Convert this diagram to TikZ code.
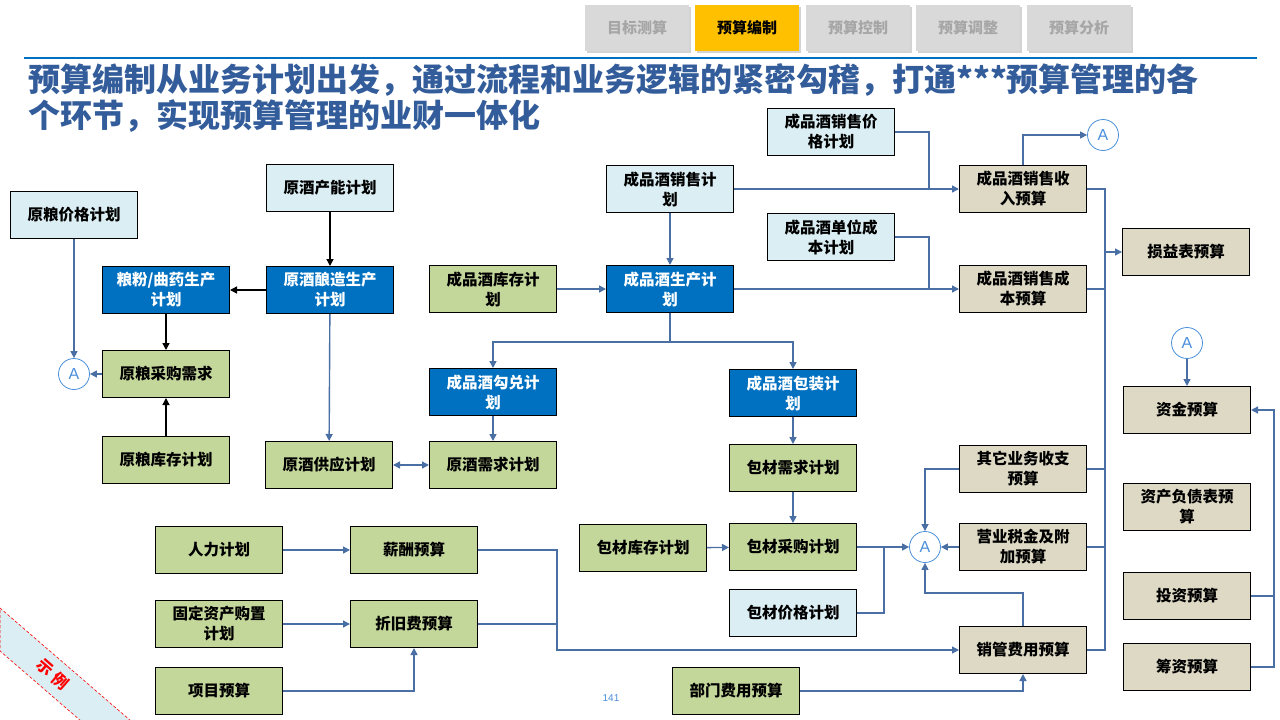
\documentclass[tikz,border=0pt]{standalone}
\usepackage{fontspec}
\setmainfont{Liberation Sans}
\newfontfamily\cjk{Noto Sans CJK SC}
\usepackage{xcolor}
\usetikzlibrary{arrows.meta,calc,positioning,shadows}

\definecolor{planblue}{HTML}{DAEEF3}
\definecolor{prodblue}{HTML}{0070C0}
\definecolor{stockgreen}{HTML}{C4D79B}
\definecolor{budgettan}{HTML}{DDD9C4}
\definecolor{linkblue}{HTML}{4A6FA5}
\definecolor{hubblue}{HTML}{4A8FDB}
\definecolor{titleblue}{HTML}{335C9B}
\definecolor{tabgray}{HTML}{D9D9D9}
\definecolor{tabtext}{HTML}{A6A6A6}
\definecolor{tabyellow}{HTML}{FFC000}

\tikzset{
    box/.style={draw=black, line width=1pt, minimum width=127pt, minimum height=47pt,
        inner sep=1pt, align=center, font=\cjk\bfseries\fontsize{15.5}{20}\selectfont},
    plan/.style={box, fill=planblue},
    prod/.style={box, fill=prodblue, text=white},
    stock/.style={box, fill=stockgreen},
    budget/.style={box, fill=budgettan},
    hub/.style={circle, draw=hubblue, text=hubblue, line width=0.8pt, minimum size=31pt,
        inner sep=0pt, font=\fontsize{16}{16}\selectfont},
    link/.style={draw=linkblue, line width=1.4pt},
    conn/.style={link, -{Triangle[length=7pt,width=7pt]}},
    dark/.style={draw=black, line width=1.4pt, -{Triangle[length=7pt,width=7pt]}},
    tab/.style={fill=tabgray, minimum width=104pt, minimum height=46pt, text=tabtext,
        font=\cjk\bfseries\fontsize{15}{15}\selectfont,
        drop shadow={shadow xshift=2pt, shadow yshift=-2pt, opacity=0.35}}
}

\begin{document}
\begin{tikzpicture}[x=1pt,y=-1pt]

    \useasboundingbox (0,0) rectangle (1280,720);

    % Tabs
    \foreach \i/\x/\t in {1/637/目标测算, 3/858/预算控制, 4/968/预算调整, 5/1079/预算分析} {
        \node[tab] (tab\i) at (\x,28) {\t};
    }
    \node[tab, fill=tabyellow, text=black] (tab2) at (747,28) {预算编制};
    \draw[prodblue, line width=1.5pt] (24,58) -- (1257,58);

    % Title
    \node[anchor=north west, inner sep=0pt, align=left, text=titleblue,
        font=\cjk\bfseries\fontsize{32}{36}\selectfont] (title) at (28,63)
        {预算编制从业务计划出发，通过流程和业务逻辑的紧密勾稽，打通***预算管理的各\\个环节，实现预算管理的业财一体化};

    % Ribbon
    \fill[planblue] (0,608) -- (131,721) -- (81,721) -- (0,651) -- cycle;
    \draw[red, densely dashed, line width=0.6pt] (81,721) -- (0,651) -- (0,608) -- (131,721);
    \node[rotate=-41, text=red, inner sep=0pt, font=\cjk\bfseries\fontsize{16}{16}\selectfont] (sample) at (53,674) {示\hspace{5pt}例};

    % Raw liquor
    \node[plan] (grainPrice) at (74,215) {原粮价格计划};
    \node[plan] (baseCap) at (330,188) {原酒产能计划};
    \node[prod] (flourPlan) at (166,290) {粮粉/曲药生产\\计划};
    \node[prod] (brewPlan) at (330,290) {原酒酿造生产\\计划};
    \node[stock] (grainBuy) at (166,374) {原粮采购需求};
    \node[stock] (grainStock) at (166,460) {原粮库存计划};
    \node[stock] (baseSupply) at (329,465) {原酒供应计划};
    \node[hub] (hubL) at (74,374) {A};

    % Finished liquor
    \node[plan] (salesPlan) at (670,189) {成品酒销售计\\划};
    \node[stock] (wineStock) at (493,289) {成品酒库存计\\划};
    \node[prod] (prodPlan) at (670,289) {成品酒生产计\\划};
    \node[prod] (blendPlan) at (493,392) {成品酒勾兑计\\划};
    \node[stock] (baseDemand) at (493,465) {原酒需求计划};
    \node[prod] (packPlan) at (793,393) {成品酒包装计\\划};
    \node[stock] (matDemand) at (793,468) {包材需求计划};
    \node[stock] (matStock) at (643,548) {包材库存计划};
    \node[stock] (matBuy) at (793,547) {包材采购计划};
    \node[plan] (matPrice) at (793,613) {包材价格计划};

    % Budgets
    \node[plan] (salesPrice) at (831,132) {成品酒销售价\\格计划};
    \node[plan] (unitCost) at (831,237) {成品酒单位成\\本计划};
    \node[budget] (revenue) at (1023,189) {成品酒销售收\\入预算};
    \node[budget] (cogs) at (1023,289) {成品酒销售成\\本预算};
    \node[hub] (hubT) at (1103,135) {A};
    \node[budget] (pnl) at (1186,252) {损益表预算};
    \node[hub] (hubR) at (1187,343) {A};
    \node[budget] (cash) at (1187,410) {资金预算};
    \node[budget] (balance) at (1187,507) {资产负债表预\\算};
    \node[budget] (invest) at (1187,596) {投资预算};
    \node[budget] (finance) at (1187,667) {筹资预算};
    \node[budget] (otherInc) at (1023,469) {其它业务收支\\预算};
    \node[budget] (taxes) at (1023,547) {营业税金及附\\加预算};
    \node[budget] (sga) at (1023,650) {销管费用预算};
    \node[hub] (hubM) at (925,547) {A};

    % Expenses
    \node[stock] (staff) at (219,550) {人力计划};
    \node[stock] (salary) at (414,550) {薪酬预算};
    \node[stock] (fixedAsset) at (219,624) {固定资产购置\\计划};
    \node[stock] (deprec) at (414,624) {折旧费预算};
    \node[stock] (project) at (219,691) {项目预算};
    \node[stock] (dept) at (736,691) {部门费用预算};

    \node[text=hubblue, font=\fontsize{10}{10}\selectfont] (pageNo) at (611,698) {141};

    % Black arrows
    \draw[dark] (baseCap) -- (brewPlan);
    \draw[dark] (brewPlan) -- (flourPlan);
    \draw[dark] (flourPlan) -- (grainBuy);
    \draw[dark] (grainStock) -- (grainBuy);

    % Blue arrows, left part
    \draw[conn] (grainPrice) -- (hubL);
    \draw[conn] (grainBuy) -- (hubL);
    \draw[conn] (brewPlan) -- (baseSupply);
    \draw[link, {Triangle[length=7pt,width=7pt]}-{Triangle[length=7pt,width=7pt]}] (baseSupply) -- (baseDemand);
    \draw[conn] (blendPlan) -- (baseDemand);

    % Production
    \draw[conn] (salesPlan) -- (prodPlan);
    \draw[conn] (wineStock) -- (prodPlan);
    \draw[conn] (prodPlan.south) -- ++(0,29) -| (blendPlan.north);
    \draw[conn] (prodPlan.south) -- ++(0,29) -| (packPlan.north);
    \draw[conn] (packPlan) -- (matDemand);
    \draw[conn] (matDemand) -- (matBuy);
    \draw[conn] (matStock) -- (matBuy);
    \draw[conn] (matBuy) -- (hubM);
    \draw[link] (matPrice.east) -| ([xshift=-25pt]hubM.west);

    % Into hub M
    \draw[conn] (otherInc.west) -| (hubM.north);
    \draw[conn] (taxes) -- (hubM);
    \draw[conn] (sga.north) -- ++(0,-33) -| (hubM.south);

    % Sales and cost
    \draw[conn] (salesPlan) -- (revenue);
    \draw[link] (salesPrice.east) -| ([xshift=-30pt]revenue.west);
    \draw[conn] (prodPlan) -- (cogs);
    \draw[link] (unitCost.east) -| ([xshift=-30pt]cogs.west);
    \draw[conn] (revenue.north) |- (hubT.west);

    % Right bus
    \draw[link] (revenue.east) -- ++(18,0) coordinate (busP) |- (sga.east);
    \draw[link] (cogs.east) -- (cogs.east -| busP);
    \draw[link] (otherInc.east) -- (otherInc.east -| busP);
    \draw[link] (taxes.east) -- (taxes.east -| busP);
    \draw[conn] (pnl.west -| busP) -- (pnl.west);

    \draw[conn] (hubR) -- (cash);
    \draw[link] (invest.east) -- ++(23,0) coordinate (busC);
    \draw[conn] (finance.east) -| (busC |- cash.east) -- (cash.east);

    % Expenses
    \draw[conn] (staff) -- (salary);
    \draw[conn] (fixedAsset) -- (deprec);
    \draw[conn] (project.east) -| (deprec.south);
    \draw[conn] (salary.east) -- ++(79,0) coordinate (busB) |- (sga.west);
    \draw[link] (deprec.east) -- (deprec.east -| busB);
    \draw[conn] (dept.east) -| (sga.south);

\end{tikzpicture}
\end{document}
